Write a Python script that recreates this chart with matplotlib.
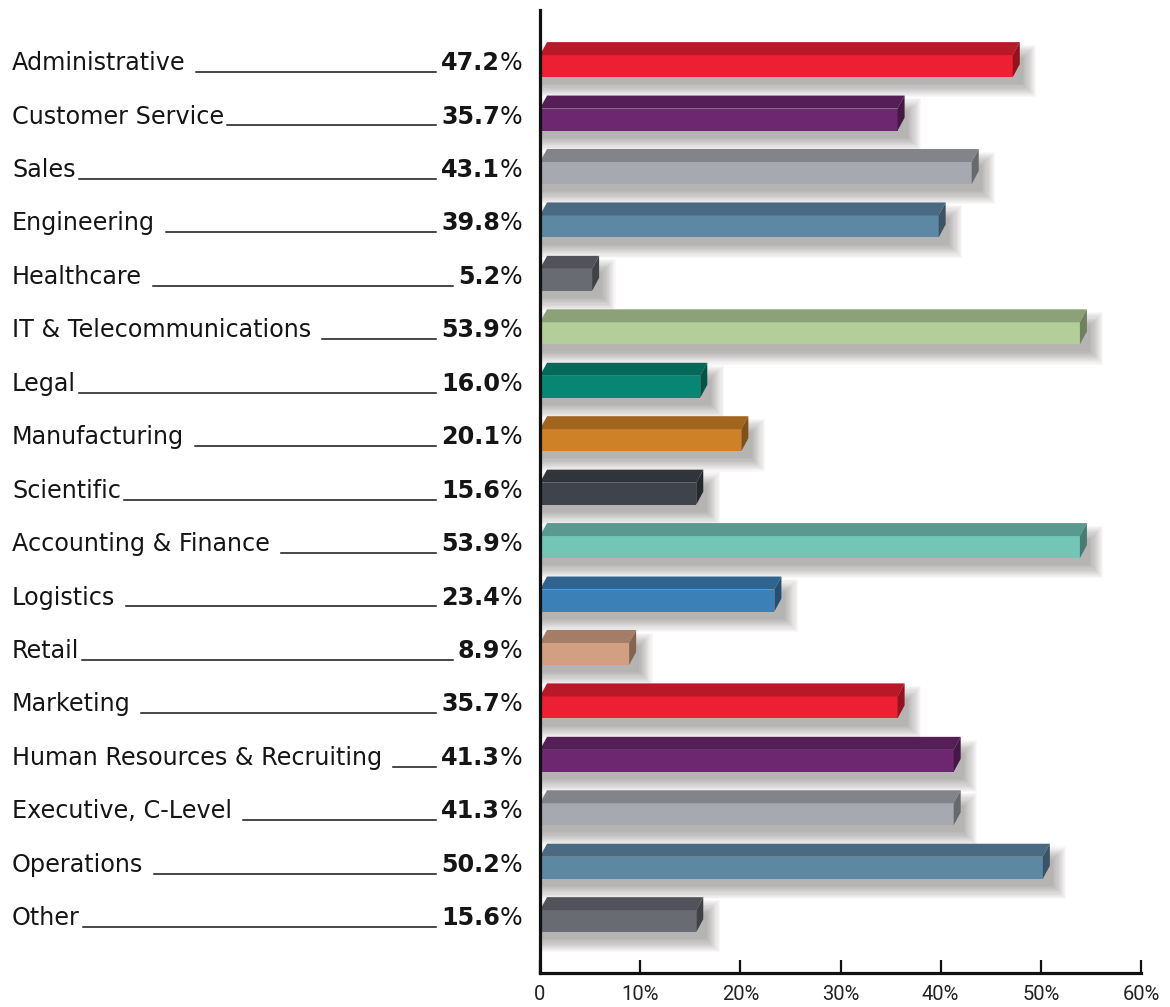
import matplotlib
matplotlib.use("Agg")
import matplotlib.pyplot as plt
from matplotlib.patches import Polygon, Rectangle
from matplotlib.lines import Line2D
from matplotlib import transforms
from matplotlib.colors import to_rgb

# ---------------- data ----------------
categories = [
    "Administrative ", "Customer Service", "Sales", "Engineering ", "Healthcare ",
    "IT & Telecommunications ", "Legal", "Manufacturing ", "Scientific",
    "Accounting & Finance ", "Logistics ", "Retail", "Marketing ",
    "Human Resources & Recruiting ", "Executive, C-Level ", "Operations ", "Other",
]
values = [47.2, 35.7, 43.1, 39.8, 5.2, 53.9, 16.0, 20.1, 15.6,
          53.9, 23.4, 8.9, 35.7, 41.3, 41.3, 50.2, 15.6]
bar_colors = [
    "#EC1F33", "#6D2770", "#A7A9B0", "#5D88A4", "#696B73", "#B3CE98",
    "#068673", "#CF8128", "#3E434C", "#73C6B6", "#3C80B8", "#D39F82",
    "#EC1F33", "#6D2770", "#A7A9B0", "#5D88A4", "#696B73",
]
xticks = [0, 10, 20, 30, 40, 50, 60]
xtick_labels = ["0", "10%", "20%", "30%", "40%", "50%", "60%"]

# ---------------- figure ----------------
W, H = 1170, 1007
fig = plt.figure(figsize=(W / 100, H / 100), dpi=100)
fig.patch.set_facecolor("white")
ax = fig.add_axes([540 / W, 34 / H, 601 / W, 963 / H])
ax.set_xlim(0, 60)
ax.set_ylim(16.97, -1.05)
ax.set_facecolor("none")

for s in ["top", "right"]:
    ax.spines[s].set_visible(False)
for s in ["left", "bottom"]:
    ax.spines[s].set_linewidth(2.3)
    ax.spines[s].set_color("#111111")
    ax.spines[s].set_zorder(10)

ax.set_yticks([])
ax.set_xticks(xticks)
ax.set_xticklabels(xtick_labels)
ax.tick_params(axis="x", direction="in", length=9.5, width=1.6, color="#111111",
               pad=9, labelsize=14.5, labelcolor="#222222")
for lab in ax.get_xticklabels():
    lab.set_family(["Roboto", "DejaVu Sans"])

# 3D bar geometry (data units)
fh = 0.206      # half height of the front face
dy = 0.243      # depth height
dx = 0.70       # depth offset in %
px_x = 60 / 601.0
px_y = 1 / 53.44

def shade(c, f):
    r, g, b = to_rgb(c)
    return (r * f, g * f, b * f)

for i, (v, c) in enumerate(zip(values, bar_colors)):
    # soft blurred shadow (layered)
    n = 13
    for k in range(n):
        e = (n - k) * 1.1
        x0 = 0
        x1 = v + dx * 0.6 + 5 * px_x + e * px_x
        y0 = i - fh + 4 * px_y - e * px_y
        y1 = i + fh + 6 * px_y + e * px_y
        ax.add_patch(Rectangle((x0, y0), x1 - x0, y1 - y0, facecolor="#3a3030",
                               alpha=0.03, lw=0, zorder=1))
    top = i - fh
    bot = i + fh
    # front face
    ax.add_patch(Rectangle((0, top), v, 2 * fh, facecolor=c, edgecolor="none",
                           zorder=3))
    # top face
    ax.add_patch(Polygon([(0, top), (dx, top - dy), (v + dx, top - dy), (v, top)],
                         closed=True, facecolor=shade(c, 0.78), edgecolor="none",
                         zorder=3))
    # side face
    ax.add_patch(Polygon([(v, top), (v + dx, top - dy), (v + dx, bot - dy), (v, bot)],
                         closed=True, facecolor=shade(c, 0.62), edgecolor="none",
                         zorder=3))

# ---------------- labels ----------------
blend = transforms.blended_transform_factory(fig.transFigure, ax.transData)
renderer = fig.canvas.get_renderer()
font = "DejaVu Sans"
fs = 17.2

tmp1 = fig.text(0, 0, "a a", fontsize=fs, family=font)
tmp2 = fig.text(0, 0, "aa", fontsize=fs, family=font)
space_w = (tmp1.get_window_extent(renderer).width
           - tmp2.get_window_extent(renderer).width)
tmp1.remove()
tmp2.remove()

for i, (name, v) in enumerate(zip(categories, values)):
    yb = i + 0.075
    t = ax.text(12 / W, yb, name.rstrip(), transform=blend, fontsize=fs,
                family=font, color="#151515", va="baseline", ha="left")
    vt = ax.text(500 / W, yb, f"{v:.1f}", transform=blend, fontsize=fs,
                 family=font, fontweight="bold", color="#151515",
                 va="baseline", ha="right")
    ax.text(500 / W, yb, "%", transform=blend, fontsize=fs, family=font,
            color="#151515", va="baseline", ha="left")
    e1 = t.get_window_extent(renderer)
    e2 = vt.get_window_extent(renderer)
    x0 = e1.x1 + 3 + (space_w if name.endswith(" ") else 0)
    x1 = e2.x0 - 5
    ax.add_line(Line2D([x0 / W, x1 / W], [i + 0.11, i + 0.11], transform=blend,
                       color="#151515", lw=1.1, clip_on=False))

fig.savefig("out.png", dpi=100, facecolor="white")
